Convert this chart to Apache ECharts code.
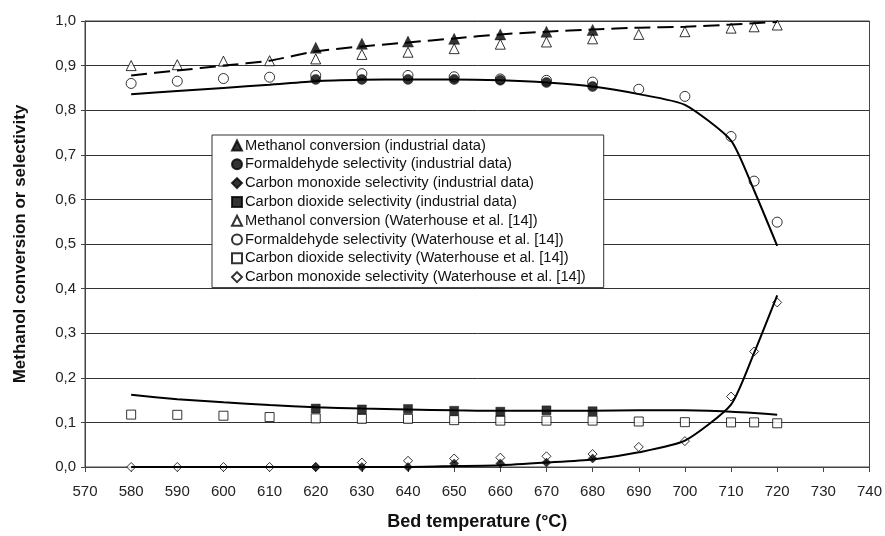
<!DOCTYPE html>
<html>
<head>
<meta charset="utf-8">
<script src="https://cdn.jsdelivr.net/npm/echarts@6/dist/echarts.min.js"></script>
<style>
  html, body { margin: 0; padding: 0; background: #fff; }
  #chart { width: 885px; height: 536px; }
</style>
</head>
<body>
<div id="chart"></div>
<script>
// x ticks / temperatures (°C)
const xTicks = [570, 580, 590, 600, 610, 620, 630, 640, 650, 660, 670, 680, 690, 700, 710, 720, 730, 740]
const yTicks = [0, 0.1, 0.2, 0.3, 0.4, 0.5, 0.6, 0.7, 0.8, 0.9, 1.0]

// industrial data (filled markers)
const indTemps = [620, 630, 640, 650, 660, 670, 680]
const indMethanol = [0.94, 0.949, 0.954, 0.96, 0.97, 0.976, 0.98]
const indFormaldehyde = [0.869, 0.869, 0.869, 0.869, 0.867, 0.862, 0.853]
const indCO = [0.0, 0.0, 0.0, 0.008, 0.008, 0.01, 0.019]
const indCO2 = [0.131, 0.129, 0.13, 0.126, 0.124, 0.127, 0.125]

// Waterhouse et al. [14] (open markers)
const wTemps = [580, 590, 600, 610, 620, 630, 640, 650, 660, 670, 680, 690, 700, 710, 715, 720]
const wMethanol = [0.90, 0.902, 0.91, 0.911, 0.915, 0.925, 0.93, 0.938, 0.948, 0.953, 0.96, 0.97, 0.976, 0.984, 0.987, 0.991]
const wFormaldehyde = [0.86, 0.865, 0.871, 0.874, 0.878, 0.882, 0.878, 0.875, 0.87, 0.867, 0.863, 0.847, 0.831, 0.741, 0.641, 0.549]
const wCO2 = [0.1175, 0.117, 0.115, 0.112, 0.109, 0.108, 0.108, 0.105, 0.104, 0.104, 0.104, 0.102, 0.1005, 0.1, 0.1, 0.098]
const wCO = [0, 0, 0, 0, 0, 0.01, 0.014, 0.019, 0.021, 0.024, 0.029, 0.045, 0.058, 0.158, 0.259, 0.369]

// model curves
const mTemps = [580, 590, 600, 610, 620, 630, 640, 650, 660, 670, 680, 690, 700, 710, 715, 720]
const mMethanol = [0.878, 0.889, 0.9, 0.911, 0.932, 0.943, 0.952, 0.961, 0.97, 0.976, 0.981, 0.985, 0.987, 0.992, 0.995, 0.998]
const mFormaldehyde = [0.836, 0.843, 0.85, 0.857, 0.865, 0.868, 0.869, 0.869, 0.867, 0.862, 0.853, 0.836, 0.812, 0.732, 0.62, 0.496]
const mCO2 = [0.162, 0.152, 0.145, 0.139, 0.134, 0.131, 0.129, 0.127, 0.126, 0.126, 0.126, 0.127, 0.127, 0.124, 0.121, 0.117]
const mCO = [0, 0, 0, 0, 0, 0, 0, 0.002, 0.004, 0.01, 0.017, 0.033, 0.059, 0.14, 0.256, 0.385]

const legendNames = [
  'Methanol conversion (industrial data)',
  'Formaldehyde selectivity (industrial data)',
  'Carbon monoxide selectivity (industrial data)',
  'Carbon dioxide selectivity (industrial data)',
  'Methanol conversion (Waterhouse et al. [14])',
  'Formaldehyde selectivity (Waterhouse et al. [14])',
  'Carbon dioxide selectivity (Waterhouse et al. [14])',
  'Carbon monoxide selectivity (Waterhouse et al. [14])'
]

const pairs = (xs, ys) => xs.map((x, i) => [x, ys[i]])

// filled marker series
const filled = (name, ys, symbol, size) => ({
  name,
  type: 'scatter',
  data: pairs(indTemps, ys),
  symbol,
  symbolSize: size,
  z: 5,
  itemStyle: { color: '#000', borderColor: '#000', borderWidth: 0.5 }
})

// open marker series
const open = (name, ys, symbol, size) => ({
  name,
  type: 'scatter',
  data: pairs(wTemps, ys),
  symbol,
  symbolSize: size,
  z: 2,
  itemStyle: { color: '#fff', borderColor: '#000', borderWidth: 1 }
})

// model lines (no legend entry)
const curve = (ys, dashed) => ({
  name: '',
  type: 'line',
  data: pairs(mTemps, ys),
  symbol: 'none',
  smooth: 0.2,
  z: 3,
  silent: true,
  lineStyle: { color: '#000', width: 2, type: dashed ? [16, 7] : 'solid' }
})

const chart = echarts.init(document.getElementById('chart'))

const option = {
  animation: false,
  textStyle: { fontFamily: 'Liberation Sans, Arial, sans-serif' },
  grid: {
    left: 85, right: 13, top: 21, bottom: 64,
    show: true, borderColor: '#444', borderWidth: 1
  },
  legend: {
    data: legendNames.map((n, i) => ({
      name: n,
      icon: ['triangle', 'circle', 'diamond', 'rect', 'triangle', 'circle', 'rect', 'diamond'][i]
    })),
    orient: 'vertical',
    left: 212,
    top: 135,
    itemWidth: 10,
    itemHeight: 10,
    itemGap: 3.8,
    padding: [3, 18, 3, 19],
    backgroundColor: '#fff',
    borderColor: '#333',
    borderWidth: 1,
    borderRadius: 0,
    selectedMode: false,
    textStyle: { fontSize: 14.7, color: '#111', padding: [0, 0, 0, -2] }
  },
  xAxis: {
    type: 'value',
    min: 570,
    max: 740,
    interval: 10,
    name: 'Bed temperature (°C)',
    nameLocation: 'middle',
    nameGap: 46,
    nameTextStyle: { fontSize: 18, fontWeight: 'bold', color: '#111' },
    axisLine: { show: true, lineStyle: { color: '#444', width: 1 } },
    axisTick: { show: true, inside: false, length: 5, lineStyle: { color: '#444' } },
    axisLabel: { fontSize: 15, color: '#222', margin: 17, formatter: v => String(v) },
    splitLine: { show: false }
  },
  yAxis: {
    type: 'value',
    min: 0,
    max: 1,
    interval: 0.1,
    name: 'Methanol conversion or selectivity',
    nameLocation: 'middle',
    nameGap: 56,
    nameTextStyle: { fontSize: 17, fontWeight: 'bold', color: '#111' },
    axisLine: { show: true, lineStyle: { color: '#444', width: 1 } },
    axisTick: { show: true, inside: false, length: 4, lineStyle: { color: '#444' } },
    axisLabel: { fontSize: 15, color: '#222', margin: 9, formatter: v => v.toFixed(1).replace('.', ',') },
    splitLine: { show: true, lineStyle: { color: '#333', width: 1 } }
  },
  series: [
    open(legendNames[4], wMethanol, 'triangle', 10),
    open(legendNames[5], wFormaldehyde, 'circle', 10),
    open(legendNames[6], wCO2, 'rect', 9),
    open(legendNames[7], wCO, 'diamond', 9),
    curve(mMethanol, true),
    curve(mFormaldehyde, false),
    curve(mCO2, false),
    curve(mCO, false),
    filled(legendNames[0], indMethanol, 'triangle', 11),
    filled(legendNames[1], indFormaldehyde, 'circle', 10),
    filled(legendNames[2], indCO, 'diamond', 9),
    filled(legendNames[3], indCO2, 'rect', 9)
  ]
}

chart.setOption(option)
</script>
</body>
</html>
